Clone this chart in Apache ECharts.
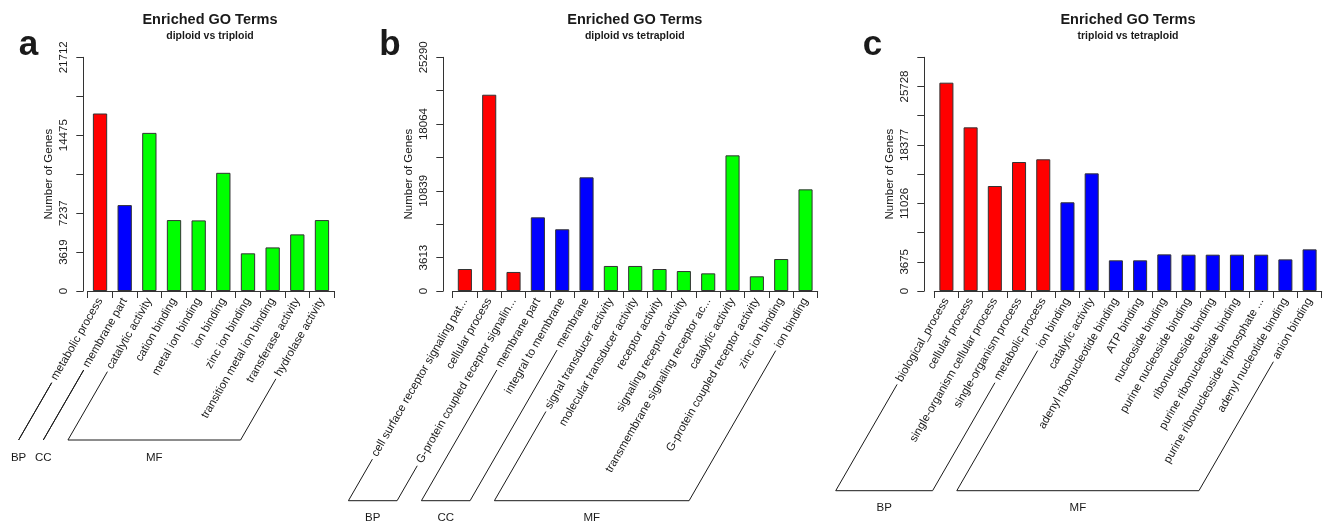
<!DOCTYPE html>
<html>
<head>
<meta charset="utf-8">
<script src="https://cdn.jsdelivr.net/npm/echarts@6/dist/echarts.min.js"></script>
<style>
  html, body { margin: 0; padding: 0; background: #fff; }
  #chart { width: 1326px; height: 524px; }
</style>
</head>
<body>
<div id="chart"></div>
<script>
// panel a: diploid vs triploid
const aCategories = ['metabolic process', 'membrane part', 'catalytic activity', 'cation binding',
  'metal ion binding', 'ion binding', 'zinc ion binding', 'transition metal ion binding',
  'transferase activity', 'hydrolase activity']
const aValues = [16490, 7980, 14690, 6590, 6560, 10980, 3500, 4050, 5260, 6590]
const aGroups = ['BP', 'CC', 'MF', 'MF', 'MF', 'MF', 'MF', 'MF', 'MF', 'MF']
const aTickLabels = ['0', '3619', '7237', '', '14475', '', '21712']

// panel b: diploid vs tetraploid
const bCategories = ['cell surface receptor signaling pat...', 'cellular process',
  'G-protein coupled receptor signalin...', 'membrane part', 'integral to membrane', 'membrane',
  'signal transducer activity', 'molecular transducer activity', 'receptor activity',
  'signaling receptor activity', 'transmembrane signaling receptor ac...', 'catalytic activity',
  'G-protein coupled receptor activity', 'zinc ion binding', 'ion binding']
const bValues = [2380, 21240, 2060, 7970, 6680, 12300, 2710, 2710, 2380, 2160, 1910, 14680, 1590, 3460, 11000]
const bGroups = ['BP', 'BP', 'BP', 'CC', 'CC', 'CC', 'MF', 'MF', 'MF', 'MF', 'MF', 'MF', 'MF', 'MF', 'MF']
const bTickLabels = ['0', '3613', '', '10839', '', '18064', '', '25290']

// panel c: triploid vs tetraploid
const cCategories = ['biological_process', 'cellular process', 'single-organism cellular process',
  'single-organism process', 'metabolic process', 'ion binding', 'catalytic activity',
  'adenyl ribonucleotide binding', 'ATP binding', 'nucleoside binding', 'purine nucleoside binding',
  'ribonucleoside binding', 'purine ribonucleoside binding', 'purine ribonucleoside triphosphate ...',
  'adenyl nucleotide binding', 'anion binding']
const cValues = [26210, 20590, 13210, 16230, 16570, 11160, 14800, 3860, 3860, 4610, 4570, 4570, 4570, 4570, 3980, 5240]
const cGroups = ['BP', 'BP', 'BP', 'BP', 'BP', 'MF', 'MF', 'MF', 'MF', 'MF', 'MF', 'MF', 'MF', 'MF', 'MF', 'MF']
const cTickLabels = ['0', '3675', '', '11026', '', '18377', '', '25728', '']

const FONT = '"Liberation Sans", Arial, Helvetica, sans-serif'
const LABEL_SIZE = 11.5
const LABEL_MARGIN = 8
const INK = '#1a1a1a'

const GRID_TOP = 57.3
const GRID_HEIGHT = 233.7

const panels = [
  {
    letter: 'a', subtitle: 'diploid vs triploid',
    categories: aCategories, values: aValues, groups: aGroups, tickLabels: aTickLabels,
    colors: { BP: '#ff0000', CC: '#0000ff', MF: '#00ff00' },
    left: 87.7, width: 246.6, yOffset: 4.4, titleX: 210, letterX: 28.5, baseY: 440
  },
  {
    letter: 'b', subtitle: 'diploid vs tetraploid',
    categories: bCategories, values: bValues, groups: bGroups, tickLabels: bTickLabels,
    colors: { BP: '#ff0000', CC: '#0000ff', MF: '#00ff00' },
    left: 452.7, width: 365, yOffset: 9.4, titleX: 634.8, letterX: 390, baseY: 500.7
  },
  {
    letter: 'c', subtitle: 'triploid vs tetraploid',
    categories: cCategories, values: cValues, groups: cGroups, tickLabels: cTickLabels,
    colors: { BP: '#ff0000', MF: '#0000ff' },
    left: 934.3, width: 387.4, yOffset: 10, titleX: 1128, letterX: 872.5, baseY: 490.7
  }
]

const chart = echarts.init(document.getElementById('chart'), null, { renderer: 'canvas' })

const yScale = (labels) => {
  let last = 0
  labels.forEach((l, i) => { if (l !== '') last = i })
  const interval = Number(labels[last]) / last
  return { interval, max: interval * (labels.length - 1) }
}

const grids = []
const xAxes = []
const yAxes = []
const series = []

panels.forEach((p, k) => {
  const ys = yScale(p.tickLabels)
  grids.push({ left: p.left, top: GRID_TOP, width: p.width, height: GRID_HEIGHT, containLabel: false })
  xAxes.push({
    type: 'category',
    gridIndex: k,
    data: p.categories,
    boundaryGap: true,
    axisLine: { lineStyle: { color: '#333', width: 1 } },
    axisTick: { show: true, length: 7, interval: 0, lineStyle: { color: '#333' } },
    axisLabel: {
      interval: 0,
      rotate: 60,
      margin: LABEL_MARGIN,
      color: INK,
      fontFamily: FONT,
      fontSize: LABEL_SIZE
    }
  })
  yAxes.push({
    type: 'value',
    gridIndex: k,
    min: 0,
    max: ys.max,
    interval: ys.interval,
    offset: p.yOffset,
    name: 'Number of Genes',
    nameLocation: 'middle',
    nameRotate: 90,
    nameGap: 28,
    nameTextStyle: { color: INK, fontFamily: FONT, fontSize: LABEL_SIZE },
    axisLine: { show: true, lineStyle: { color: '#333', width: 1 } },
    axisTick: { show: true, length: 7, lineStyle: { color: '#333' } },
    splitLine: { show: false },
    axisLabel: {
      rotate: 90,
      margin: 13,
      color: INK,
      fontFamily: FONT,
      fontSize: LABEL_SIZE,
      formatter: (v) => p.tickLabels[Math.round(v / ys.interval)] || ''
    }
  })
  series.push({
    type: 'bar',
    xAxisIndex: k,
    yAxisIndex: k,
    barWidth: '58%',
    data: p.values.map((v, i) => ({
      value: v,
      itemStyle: { color: p.colors[p.groups[i]] }
    })),
    itemStyle: { borderColor: '#333', borderWidth: 1 },
    animation: false
  })
})

chart.setOption({
  backgroundColor: '#ffffff',
  animation: false,
  grid: grids,
  xAxis: xAxes,
  yAxis: yAxes,
  series
})

// titles, panel letters and BP / CC / MF brackets under the rotated labels
const measure = document.createElement('canvas').getContext('2d')
measure.font = `${LABEL_SIZE}px "Liberation Sans"`

const COS = Math.cos(Math.PI / 3)
const SIN = Math.sin(Math.PI / 3)
const GAP = 4

const graphic = []

const textEl = (text, x, y, size, weight, align) => ({
  type: 'text',
  x,
  y,
  silent: true,
  style: {
    text,
    fill: INK,
    font: `${weight} ${size}px ${FONT}`,
    textAlign: align || 'center',
    textVerticalAlign: 'middle',
    align: align || 'center',
    verticalAlign: 'middle'
  }
})

panels.forEach((p, k) => {
  graphic.push(textEl('Enriched GO Terms', p.titleX, 20, 14.5, 'bold'))
  graphic.push(textEl(p.subtitle, p.titleX, 36.5, 10.5, 'bold'))
  graphic.push(textEl(p.letter, p.letterX, 45.5, 35, 'bold'))

  const axisY = chart.convertToPixel({ yAxisIndex: k }, 0)
  const anchorY = axisY + LABEL_MARGIN

  const runs = []
  p.groups.forEach((g, i) => {
    const last = runs[runs.length - 1]
    if (last && last.name === g) last.to = i
    else runs.push({ name: g, from: i, to: i })
  })

  const endPoints = (i) => {
    const x = chart.convertToPixel({ xAxisIndex: k }, p.categories[i])
    const len = measure.measureText(p.categories[i]).width + GAP
    const top = [x - len * COS, anchorY + len * SIN]
    const bottom = [x - (p.baseY - anchorY) * COS / SIN, p.baseY]
    return { top, bottom }
  }

  runs.forEach((r) => {
    const a = endPoints(r.from)
    const b = endPoints(r.to)
    graphic.push({
      type: 'polyline',
      silent: true,
      shape: { points: [a.top, a.bottom, b.bottom, b.top] },
      style: { stroke: INK, lineWidth: 1, fill: null }
    })
    graphic.push(textEl(r.name, (a.bottom[0] + b.bottom[0]) / 2, p.baseY + 17.5, LABEL_SIZE, 'normal'))
  })
})

chart.setOption({ graphic })
</script>
</body>
</html>
